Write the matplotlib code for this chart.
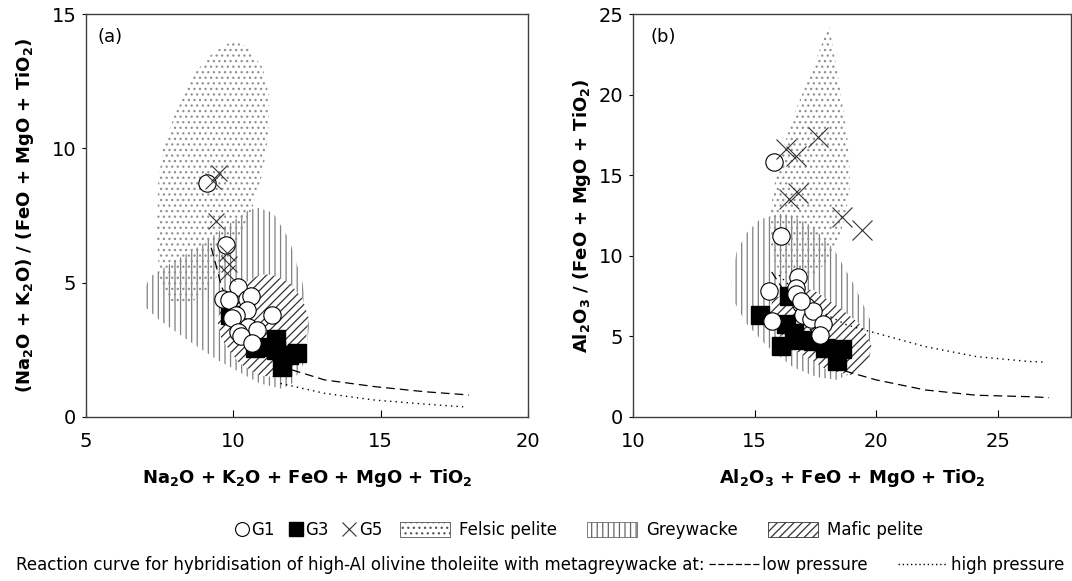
import matplotlib.pyplot as plt
from matplotlib.patches import Polygon, Patch
from matplotlib.lines import Line2D

plt.rcParams['font.family'] = ['DejaVu Sans']
plt.rcParams['mathtext.fontset'] = 'dejavusans'
plt.rcParams['hatch.linewidth'] = 0.9

# ---- (a) alkalis ratio diagram ----
g1_a_x = [9.1, 9.75, 10.15, 9.65, 9.85, 10.45, 10.6, 10.45, 10.1, 9.95, 11.3, 10.5, 10.15, 10.8, 10.25, 10.65]
g1_a_y = [8.7, 6.4, 4.85, 4.4, 4.35, 4.4, 4.5, 4.0, 3.8, 3.7, 3.8, 3.35, 3.15, 3.25, 3.0, 2.75]
g3_a_x = [9.9, 10.75, 11.45, 11.45, 11.65, 12.15, 11.1, 11.9]
g3_a_y = [3.8, 2.55, 2.9, 2.5, 1.85, 2.4, 2.6, 2.3]
g5_a_x = [9.3, 9.5, 9.4, 9.8, 9.85, 9.8]
g5_a_y = [8.8, 9.1, 7.3, 6.1, 5.7, 5.35]

low_a_x = [9.25, 9.4, 9.6, 10.0, 10.6, 11.3, 12.0, 13.1, 14.8, 16.5, 18.0]
low_a_y = [6.3, 5.7, 4.85, 3.9, 3.0, 2.3, 1.75, 1.38, 1.13, 0.94, 0.82]
high_a_x = [11.6, 13.1, 14.8, 16.5, 17.8]
high_a_y = [1.25, 0.88, 0.63, 0.48, 0.38]

felsic_a = [(9.97, 14.0), (10.45, 13.8), (11.0, 13.0), (11.2, 12.0), (11.2, 10.6), (11.0, 9.1),
            (10.65, 7.8), (10.2, 6.7), (9.7, 5.6), (9.1, 4.7), (8.5, 4.2), (7.85, 4.2), (7.5, 5.0),
            (7.4, 6.8), (7.45, 8.7), (7.6, 9.9), (8.05, 11.4), (8.6, 12.7), (9.3, 13.55)]
greywacke_a = [(6.94, 4.6), (7.15, 5.2), (7.85, 5.7), (8.85, 6.35), (9.75, 7.1), (10.45, 7.65),
               (10.8, 7.8), (11.35, 7.6), (11.9, 6.6), (12.35, 5.0), (12.57, 3.4), (12.45, 2.1),
               (12.0, 1.25), (11.65, 1.05), (10.9, 1.25), (9.5, 2.1), (8.4, 2.9), (7.5, 3.6), (7.0, 4.1)]
mafic_a = [(11.3, 5.3), (11.9, 5.0), (12.35, 4.4), (12.55, 3.7), (12.45, 2.8), (12.1, 2.0),
           (11.55, 1.45), (10.9, 1.55), (10.2, 2.0), (9.6, 2.9), (9.45, 3.6), (9.7, 4.4),
           (10.4, 5.0), (10.9, 5.3)]

# ---- (b) alumina ratio diagram ----
g1_b_x = [15.8, 16.1, 15.6, 15.7, 16.8, 16.7, 16.7, 16.9, 17.1, 17.0, 17.3, 17.4, 17.8, 17.7, 16.9]
g1_b_y = [15.8, 11.2, 7.8, 5.95, 8.7, 8.0, 7.6, 7.0, 6.9, 6.3, 6.1, 6.6, 5.8, 5.1, 7.2]
g3_b_x = [15.2, 16.1, 16.3, 16.4, 16.6, 16.85, 17.4, 17.9, 18.4, 18.6]
g3_b_y = [6.3, 4.4, 5.8, 7.5, 5.2, 4.8, 4.7, 4.3, 3.5, 4.2]
g5_b_x = [16.3, 16.7, 17.6, 16.4, 16.8, 18.6, 19.4]
g5_b_y = [16.6, 16.2, 17.4, 13.5, 13.9, 12.4, 11.6]

low_b_x = [15.7, 16.0, 16.5, 17.2, 18.0, 18.6, 20.0, 22.0, 24.1, 26.3, 27.1]
low_b_y = [9.0, 8.3, 7.2, 5.6, 4.0, 2.9, 2.3, 1.68, 1.35, 1.26, 1.2]
high_b_x = [16.0, 17.0, 18.0, 18.8, 20.0, 22.0, 24.1, 26.3, 27.0]
high_b_y = [8.8, 7.3, 6.3, 5.7, 5.2, 4.37, 3.75, 3.44, 3.4]

felsic_b = [(18.07, 24.2), (18.35, 21.8), (18.6, 19.5), (18.8, 17.5), (18.9, 15.5), (18.9, 14.0),
            (18.7, 12.3), (18.4, 10.8), (17.9, 9.5), (17.3, 8.7), (16.6, 8.5), (16.0, 9.0),
            (15.7, 10.3), (15.6, 11.8), (15.7, 13.3), (15.95, 15.6), (16.6, 18.7), (17.4, 21.7),
            (17.85, 23.5)]
greywacke_b = [(14.04, 8.3), (14.25, 10.2), (14.66, 11.4), (15.2, 12.25), (16.0, 12.6), (16.45, 12.55),
               (17.4, 11.8), (18.3, 10.3), (19.05, 8.3), (19.7, 6.2), (19.92, 5.2), (19.85, 4.0),
               (19.3, 2.9), (18.35, 2.3), (17.5, 2.5), (16.57, 3.1), (15.5, 4.4), (14.66, 5.8), (14.1, 7.3)]
mafic_b = [(15.75, 7.3), (16.5, 7.8), (17.4, 7.9), (18.6, 6.65), (19.45, 5.6), (19.8, 4.4),
           (19.6, 3.2), (19.0, 2.6), (18.0, 2.9), (16.6, 4.2), (15.9, 5.4), (15.6, 6.5)]

FELSIC = dict(facecolor='none', edgecolor='#909090', hatch='...', lw=0)
GREY = dict(facecolor='none', edgecolor='#808080', hatch='|||', lw=0)
MAFIC = dict(facecolor='white', edgecolor='#333333', hatch='////', lw=0)


def draw_panel(ax, fields, g1, g3, g5, low, high, xlim, ylim, xticks, yticks,
               xlabel, ylabel, tag, tag_x, ms, ms_x, ylabelpad):
    felsic, grey, mafic = fields
    ax.add_patch(Polygon(grey, closed=True, zorder=1, **GREY))
    ax.add_patch(Polygon(felsic, closed=True, zorder=1.1, **FELSIC))
    ax.add_patch(Polygon(mafic, closed=True, zorder=1.2, **MAFIC))

    ax.plot(*low, ls=(0, (7, 4)), color='black', lw=0.9, zorder=2)
    ax.plot(*high, ls=(0, (1, 3)), color='black', lw=1.0, zorder=2)

    ax.plot(*g3, ls='none', marker='s', ms=ms, mfc='black', mec='black', zorder=3)
    ax.plot(*g1, ls='none', marker='o', ms=ms, mfc='white', mec='black', mew=0.8, zorder=4)
    ax.plot(*g5, ls='none', marker='x', ms=ms_x, mec='#333333', mew=0.8, zorder=5)

    ax.set_xlim(*xlim)
    ax.set_ylim(*ylim)
    ax.set_xticks(xticks)
    ax.set_yticks(yticks)
    ax.tick_params(axis='x', direction='in', length=5, pad=11, labelsize=14)
    ax.tick_params(axis='y', direction='out', length=3, pad=4, labelsize=14)
    for s in ax.spines.values():
        s.set_color('#404040')
        s.set_linewidth(1.0)
    ax.set_xlabel(xlabel, fontsize=13, fontweight='bold', labelpad=11)
    ax.set_ylabel(ylabel, fontsize=13, fontweight='bold', labelpad=ylabelpad)
    ax.text(tag_x, 0.965, tag, transform=ax.transAxes, fontsize=13, va='top')


fig = plt.figure(figsize=(10.72, 5.81), dpi=100)
ax_a = fig.add_axes([86 / 1072, 1 - 417 / 581, 442 / 1072, 403 / 581])
ax_b = fig.add_axes([633 / 1072, 1 - 417 / 581, 438 / 1072, 403 / 581])

draw_panel(ax_a, (felsic_a, greywacke_a, mafic_a),
           (g1_a_x, g1_a_y), (g3_a_x, g3_a_y), (g5_a_x, g5_a_y),
           (low_a_x, low_a_y), (high_a_x, high_a_y),
           (5, 20), (0, 15), [5, 10, 15, 20], [0, 5, 10, 15],
           r'Na$_\mathbf{2}$O + K$_\mathbf{2}$O + FeO + MgO + TiO$_\mathbf{2}$',
           r'(Na$_\mathbf{2}$O + K$_\mathbf{2}$O) / (FeO + MgO + TiO$_\mathbf{2}$)',
           '(a)', 0.027, 12.5, 11, 11)
draw_panel(ax_b, (felsic_b, greywacke_b, mafic_b),
           (g1_b_x, g1_b_y), (g3_b_x, g3_b_y), (g5_b_x, g5_b_y),
           (low_b_x, low_b_y), (high_b_x, high_b_y),
           (10, 28), (0, 25), [10, 15, 20, 25], [0, 5, 10, 15, 20, 25],
           r'Al$_\mathbf{2}$O$_\mathbf{3}$ + FeO + MgO + TiO$_\mathbf{2}$',
           r'Al$_\mathbf{2}$O$_\mathbf{3}$ / (FeO + MgO + TiO$_\mathbf{2}$)',
           '(b)', 0.039, 12.5, 14, 4)

# legend row 1: sample groups and reference fields
row1_y = 1 - 530 / 581
marker_handles = [
    Line2D([], [], ls='none', marker='o', ms=10, mfc='white', mec='black', mew=0.8),
    Line2D([], [], ls='none', marker='s', ms=10, mfc='black', mec='black'),
    Line2D([], [], ls='none', marker='x', ms=10, mec='#333333', mew=0.8),
]
fig.legend(marker_handles, ['G1', 'G3', 'G5'], loc='center right',
           bbox_to_anchor=(382 / 1072, row1_y), ncol=3, frameon=False,
           fontsize=12, handlelength=0.9, handletextpad=0.1, columnspacing=0.8,
           borderpad=0, borderaxespad=0)

field_handles = [
    Patch(facecolor='white', edgecolor='#555555', hatch='...', lw=0.6),
    Patch(facecolor='white', edgecolor='#666666', hatch='|||', lw=0.6),
    Patch(facecolor='white', edgecolor='#333333', hatch='////', lw=0.6),
]
fig.legend(field_handles, ['Felsic pelite', 'Greywacke', 'Mafic pelite'], loc='center left',
           bbox_to_anchor=(400 / 1072, row1_y), ncol=3, frameon=False,
           fontsize=12, handlelength=3.0, handleheight=1.0, handletextpad=0.55,
           columnspacing=1.8, borderpad=0, borderaxespad=0)

# legend row 2: reaction curves
row2_y = 1 - 565 / 581
prefix = fig.text(16 / 1072, row2_y,
                  'Reaction curve for hybridisation of high-Al olivine tholeiite with metagreywacke at:',
                  fontsize=12, va='center', ha='left')
fig.canvas.draw()
bb = prefix.get_window_extent().transformed(fig.transFigure.inverted())
curve_handles = [
    Line2D([], [], ls=(0, (5, 2)), color='black', lw=0.9),
    Line2D([], [], ls=(0, (1, 2)), color='black', lw=1.0),
]
fig.legend(curve_handles, ['low pressure', 'high pressure'], loc='center left',
           bbox_to_anchor=(bb.x1 + 0.004, row2_y), ncol=2, frameon=False,
           fontsize=12, handlelength=3.0, handletextpad=0.2, columnspacing=1.8,
           borderpad=0, borderaxespad=0)

fig.savefig('out.png', dpi=100)
